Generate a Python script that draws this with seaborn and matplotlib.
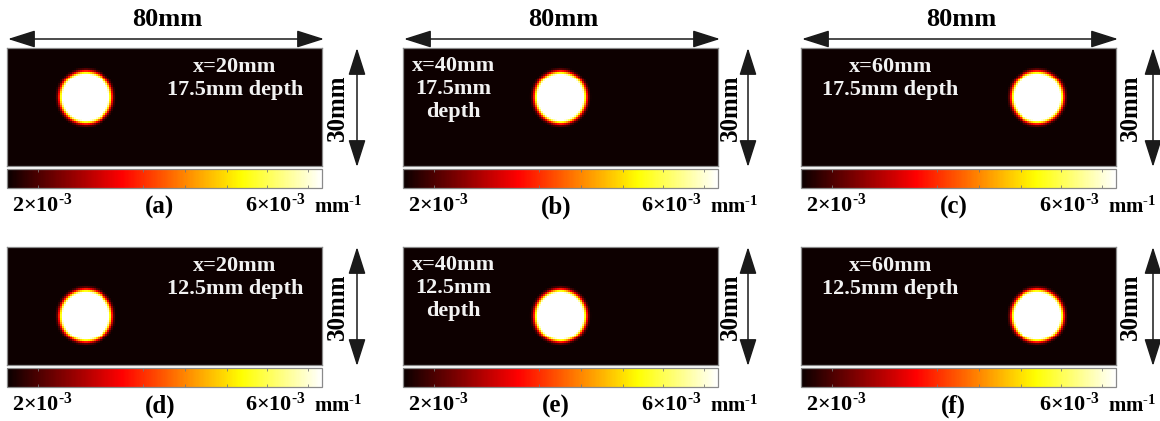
import numpy as np
import matplotlib
matplotlib.use("Agg")
import matplotlib.pyplot as plt
from matplotlib.patches import FancyArrowPatch
import seaborn as sns

# ---- absorption maps: 80 mm x 30 mm field, one circular inclusion each ----
field_w_mm = 80.0
field_h_mm = 30.0
cell_mm = 0.5

panel_ids = ["(a)", "(b)", "(c)", "(d)", "(e)", "(f)"]
incl_x_mm = [20, 40, 60, 20, 40, 60]            # inclusion centre (lateral)
incl_depth_mm = [17.5, 17.5, 17.5, 12.5, 12.5, 12.5]  # measured from the bottom edge
panel_notes = ["x=20mm\n17.5mm depth", "x=40mm\n17.5mm\ndepth", "x=60mm\n17.5mm depth",
               "x=20mm\n12.5mm depth", "x=40mm\n12.5mm\ndepth", "x=60mm\n12.5mm depth"]

# radial absorption profile of the reconstructed inclusion (mm, mm^-1)
profile_r_mm = [0.0, 5.6, 6.1, 6.5, 6.9, 7.3, 7.8, 60.0]
profile_mua = [7.6e-3, 7.2e-3, 6.2e-3, 4.6e-3, 3.0e-3, 1.9e-3, 1.43e-3, 1.43e-3]

# colour scale
mua_min = 1.4e-3
mua_max = 6.8e-3
cbar_labels = ["2×10$^{‐3}$", "6×10$^{‐3}$"]
cbar_label_vals = [2e-3, 6e-3]
cbar_minor_vals = [1.93e-3, 3.73e-3, 4.45e-3, 5.17e-3, 5.86e-3, 6.56e-3]
cbar_unit = "mm$^{‐1}$"

# ---- figure geometry in pixels (top-left origin) ----
W, H = 1160, 421
col_left = [7, 403, 801]
img_w = 315
row_top = [48, 247]
img_h = 118
cbar_gap = 3
cbar_h = 19
vert_arrow_x = [357, 748, 1153]
vert_text_x = [337, 730, 1130]

plt.rcParams["font.family"] = ["Liberation Serif", "DejaVu Serif"]
plt.rcParams["font.weight"] = "bold"
plt.rcParams["mathtext.fontset"] = "custom"
plt.rcParams["mathtext.default"] = "regular"

fig = plt.figure(figsize=(W / 100, H / 100), dpi=100)
fig.patch.set_facecolor("white")


def rect(left, top, w, h):
    return [left / W, 1 - (top + h) / H, w / W, h / H]


def fig_pt(x, y):
    return (x / W, 1 - y / H)


xs = (np.arange(int(field_w_mm / cell_mm)) + 0.5) * cell_mm
ys = (np.arange(int(field_h_mm / cell_mm)) + 0.5) * cell_mm  # from top
XX, YY = np.meshgrid(xs, ys)

edge = "#8a8a8a"
arrow_style = "<|-|>,head_length=0.85,head_width=0.27"

for k in range(6):
    row, col = divmod(k, 3)
    left = col_left[col]
    top = row_top[row]

    cx = incl_x_mm[k]
    cy = field_h_mm - incl_depth_mm[k]
    dist = np.hypot(XX - cx, YY - cy)
    mua = np.interp(dist, profile_r_mm, profile_mua)

    ax = fig.add_axes(rect(left, top, img_w, img_h))
    cax = fig.add_axes(rect(left, top + img_h + cbar_gap, img_w, cbar_h))

    sns.heatmap(mua, ax=ax, cmap="hot", vmin=mua_min, vmax=mua_max,
                cbar=True, cbar_ax=cax, cbar_kws={"orientation": "horizontal"},
                xticklabels=False, yticklabels=False, rasterized=True)
    ax.tick_params(left=False, bottom=False)
    for s in ax.spines.values():
        s.set_visible(True)
        s.set_color(edge)
        s.set_linewidth(0.9)

    # colour bar styling
    cb = ax.collections[0].colorbar
    cb.outline.set_edgecolor(edge)
    cb.outline.set_linewidth(0.9)
    cax.set_xticks(cbar_label_vals)
    cax.set_xticklabels(cbar_labels, fontsize=16, fontweight="bold")
    cax.set_xticks(cbar_minor_vals, minor=True)
    cax.tick_params(axis="x", which="major", length=0, pad=4)
    cax.tick_params(axis="x", which="minor", length=2.5, color="#777777",
                    direction="in", top=True, bottom=True, width=0.6)
    cax.text(0.975, -0.45, cbar_unit, transform=cax.transAxes,
             ha="left", va="top", fontsize=15, fontweight="bold")
    cax.text(0.485, -0.42, panel_ids[k], transform=cax.transAxes,
             ha="center", va="top", fontsize=18, fontweight="bold")

    # annotation inside the map
    if col == 1:
        tx, ty = 0.16, 0.655
    elif col == 0:
        tx, ty = 0.724, 0.745
    else:
        tx, ty = 0.283, 0.745
    ax.text(tx, ty, panel_notes[k], transform=ax.transAxes, color="#f2f2f2",
            ha="center", va="center", fontsize=16, fontweight="bold",
            linespacing=1.2)

    # 30 mm height arrow
    arr = FancyArrowPatch(fig_pt(vert_arrow_x[col], top),
                          fig_pt(vert_arrow_x[col], top + img_h + 1),
                          transform=fig.transFigure, arrowstyle=arrow_style,
                          mutation_scale=20, color="#1a1a1a", lw=1.1,
                          shrinkA=0, shrinkB=0)
    fig.add_artist(arr)
    fig.text(*fig_pt(vert_text_x[col], top + img_h / 2 + 1), "30mm", rotation=90,
             ha="center", va="center", fontsize=18, fontweight="bold")

    # 80 mm width arrow on the top row
    if row == 0:
        arr = FancyArrowPatch(fig_pt(left + 1, 39), fig_pt(left + img_w + 2, 39),
                              transform=fig.transFigure, arrowstyle=arrow_style,
                              mutation_scale=20, color="#1a1a1a", lw=1.1,
                              shrinkA=0, shrinkB=0)
        fig.add_artist(arr)
        fig.text(*fig_pt(left + img_w / 2 + 3, 20), "80mm",
                 ha="center", va="center", fontsize=19, fontweight="bold")

fig.savefig("out.png", dpi=100, facecolor="white")
